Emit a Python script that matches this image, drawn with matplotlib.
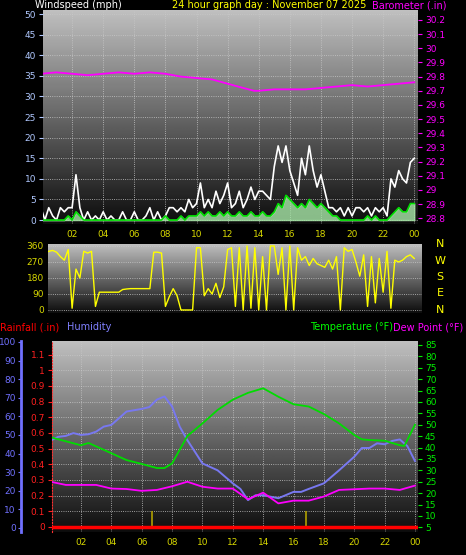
import numpy as np
import matplotlib
matplotlib.use("Agg")
import matplotlib.pyplot as plt

# ---------------- data ----------------
wind_t = np.arange(0, 24.01, 0.25)  # 97 points
wind_gust = [3,0,3,1, 0,3,2,3, 3,11,3,0, 2,0,1,0, 2,0,1,0, 0,2,0,0, 2,0,0,1, 3,0,2,0,
             1,3,3,2, 3,2,5,3, 4,9,3,5, 3,7,4,6, 9,3,4,7, 3,5,8,5, 7,7,6,5, 13,18,14,18,
             12,9,6,15, 11,18,12,8, 11,7,3,3, 2,3,1,3, 1,3,3,2, 3,1,3,2, 3,1,10,8, 12,10,9,14, 15]
wind_avg  = [0,0,0,0, 0,0,0,1, 0,2,1,0, 0,0,0,0, 0,0,0,0, 0,0,0,0, 0,0,0,0, 0,0,0,0,
             1,0,0,0, 1,0,1,1, 1,2,1,2, 1,1,2,1, 2,1,1,2, 1,1,2,1, 1,2,1,1, 2,4,3,6,
             5,4,3,4, 3,5,4,3, 4,3,2,1, 1,0,0,0, 0,0,0,0, 1,0,1,0, 0,0,1,2, 3,2,2,4, 4]
baro_t = [0,1,2,3,4,5,6,7,8,9,10,11,12,13,13.7,14,15,16,17,18,19,20,21,22,23,24]
baro   = [29.82,29.83,29.82,29.81,29.82,29.83,29.82,29.83,29.82,29.80,29.79,29.78,29.75,29.72,29.70,29.70,29.71,29.71,29.71,29.72,29.73,29.74,29.73,29.74,29.75,29.76]

dir_t = np.arange(0, 24.01, 0.25)
wind_dir = [310,320,330,335, 325,300,280,340, 10,230,180,330, 320,330,20,100,
            100,100,100,100, 100,115,118,120, 120,120,120,120, 120,325,325,320,
            20,75,120,80, 0,0,0,0, 350,350,80,120, 90,150,70,130,
            340,350,20,350, 0,360,10,350, 0,300,0,360, 360,200,350,0,
            360,0,350,280,300,250,290,260, 250,240,280,230, 300,0,350,330,
            340,270,190,310, 20,300,40,290, 100,330,10,280, 270,280,300,310, 290]
hum_t = [0,0.5,1,1.5,2,2.5,3,3.5,4,5,6,6.5,7,7.5,8,8.5,9,10,11,12,12.5,13,13.5,14,15,16,16.5,17,18,19,20,20.5,21,21.5,22,22.5,23,23.5,24]
humidity = [47,49,49.5,51,50,50.4,51.8,54.5,55.4,62.6,64,65,69,70.7,65.3,54.5,47.3,34.7,31,24,21,15,17.6,17.6,16,19.4,19.4,21,24,31,38.3,43,43,45.5,45,46.8,47.6,44,36]
temp_t = [0,2,2.5,4,5,6,7,7.5,8,9,10,11,12,13,14,15,16,17,18,19,20,20.5,21,22,23,23.3,24]
temperature = [44.5,41,42,37.5,34.5,32.8,31,31,33,45,50.6,56.5,61,64,66,62.3,59,58,54.7,50.6,45.5,43.6,43.3,43,41,40.7,50]
dew_t = list(range(25))
dewpoint = [25,23.6,23.6,23.6,22,21.8,21,21.4,23,25,22.8,22,22,17.3,20.2,15.5,16.7,16.7,18.5,21.4,21.7,22,22,21.4,23.3]
rain_t = [6.7, 16.8]
rain_rate = [0.1, 0.1]
xticks = [2,4,6,8,10,12,14,16,18,20,22,24]
xlabels = ["02","04","06","08","10","12","14","16","18","20","22","00"]

W, H = 466, 555
fig = plt.figure(figsize=(W/100, H/100), dpi=100, facecolor="black")
def rect(l, r, t, b):
    return [l/W, 1-b/H, (r-l)/W, (b-t)/H]

grad = np.linspace(0.75, 0.05, 200).reshape(-1, 1)
def bg(ax):
    ax.imshow(grad, cmap="gray", vmin=0, vmax=1, aspect="auto", extent=[0,1,0,1],
              transform=ax.transAxes, zorder=0)
    ax.set_facecolor("black")
    for s in ax.spines.values():
        s.set_visible(False)

tick_yellow = "#d8d800"
fs = 6.5
tfs = 7

# ---------------- top panel ----------------
ax1 = fig.add_axes(rect(43, 418, 10, 224))
bg(ax1)
ax1.set_xlim(0.13, 24.24)
ax1.set_ylim(-0.96, 51)
ax1.fill_between(wind_t, 0, wind_avg, color="#a8e8a8", alpha=0.8, zorder=2)
ax1.plot(wind_t, wind_gust, color="white", lw=1.2, zorder=3)
ax1.plot(wind_t, wind_avg, color="#00dd00", lw=1.2, zorder=4)
ax1.set_yticks(range(0, 51, 5))
ax1.set_xticks(xticks)
ax1.set_xticklabels(xlabels)
ax1.tick_params(axis="x", colors=tick_yellow, labelsize=fs, length=0, pad=4)
ax1.tick_params(axis="y", colors="#b0c8ff", labelsize=fs, length=3, pad=2)
ax1.grid(True, color="#c8c8c8", ls=":", lw=0.6, zorder=1)
ax1b = ax1.twinx()
for s in ax1b.spines.values():
    s.set_visible(False)
ax1b.set_ylim(28.76, 30.27)
ax1b.plot(baro_t, baro, color="#ff00ff", lw=1.3, zorder=5)
bt = np.round(np.arange(28.8, 30.21, 0.1), 1)
ax1b.set_yticks(bt)
ax1b.set_yticklabels([f"{v:g}" for v in bt])
ax1b.tick_params(axis="y", colors="#ff00ff", labelsize=fs, length=3, pad=2)
fig.text(35/W, 1-5/H, "Windspeed (mph)", color="white", fontsize=tfs, va="center")
fig.text(172/W, 1-5/H, "24 hour graph day : November 07 2025", color="#ffff00", fontsize=tfs, va="center")
fig.text(372/W, 1-5/H, "Barometer (.in)", color="#ff00ff", fontsize=tfs, va="center")

# ---------------- middle panel ----------------
ax2 = fig.add_axes(rect(48, 422, 244, 313))
bg(ax2)
ax2.set_xlim(0.45, 24.5)
ax2.set_ylim(-17, 371)
ax2.plot(dir_t, wind_dir, color="#ffff00", lw=1.0, zorder=3)
ax2.set_yticks([0, 90, 180, 270, 360])
ax2.set_xticks([])
ax2.tick_params(axis="y", colors=tick_yellow, labelsize=fs, length=0, pad=3)
ax2.grid(True, axis="y", color="#c8c8c8", ls=":", lw=0.6, zorder=1)
for i, c in enumerate(["N", "W", "S", "E", "N"]):
    fig.text(440/W, 1-(244 + i*16.5)/H, c, color="#ffff00", fontsize=8, ha="center", va="center")

# ---------------- bottom panel ----------------
ax3 = fig.add_axes(rect(52, 418, 341, 532))
bg(ax3)
ax3.set_xlim(0.09, 24.2)
ax3.set_ylim(-0.032, 1.187)
ax3.plot([0.09, 24.2], [0, 0], color="#ff0000", lw=2.5, zorder=6)
ax3.vlines(rain_t, 0, rain_rate, color="#b0a000", lw=1.2, zorder=5)
rt = np.round(np.arange(0, 1.11, 0.1), 1)
ax3.set_yticks(rt)
ax3.set_yticklabels([f"{v:g}" for v in rt])
ax3.tick_params(axis="y", colors="#ff2020", labelsize=fs, length=3, pad=2)
ax3.spines["left"].set_visible(True)
ax3.spines["left"].set_color("#ff3030")
ax3.spines["left"].set_linestyle(":")
ax3.set_xticks(xticks)
ax3.set_xticklabels(xlabels)
ax3.tick_params(axis="x", colors=tick_yellow, labelsize=fs, length=0, pad=4)
ax3.grid(True, color="#c8c8c8", ls=":", lw=0.6, zorder=1)

axh = ax3.twinx()
for s in axh.spines.values():
    s.set_visible(False)
axh.spines["left"].set_visible(True)
axh.spines["left"].set_position(("outward", 22))
axh.spines["left"].set_color("#7070ff")
axh.spines["left"].set_linewidth(2)
axh.yaxis.set_ticks_position("left")
axh.yaxis.set_label_position("left")
axh.set_ylim(-2.15, 100.5)
axh.set_yticks(range(0, 101, 10))
axh.tick_params(axis="y", colors="#7070ff", labelsize=fs, length=2, pad=2)
axh.plot(hum_t, humidity, color="#7878f0", lw=1.4, zorder=4)

axt = ax3.twinx()
for s in axt.spines.values():
    s.set_visible(False)
axt.set_ylim(2.94, 86.75)
axt.set_yticks(range(5, 86, 5))
axt.tick_params(axis="y", colors="#00ee00", labelsize=fs, length=3, pad=2)
axt.plot(temp_t, temperature, color="#00dd00", lw=1.3, zorder=4)
axt.plot(dew_t, dewpoint, color="#ff00ff", lw=1.3, zorder=4)

fig.text(0/W, 1-327/H, "Rainfall (.in)", color="#ff0000", fontsize=tfs, va="center")
fig.text(67/W, 1-327/H, "Humidity", color="#8080ff", fontsize=tfs, va="center")
fig.text(310/W, 1-327/H, "Temperature (°F)", color="#00ff00", fontsize=tfs, va="center")
fig.text(463/W, 1-327/H, "Dew Point (°F)", color="#ff00ff", fontsize=tfs, va="center", ha="right")

fig.savefig("out.png", dpi=100, facecolor="black")
